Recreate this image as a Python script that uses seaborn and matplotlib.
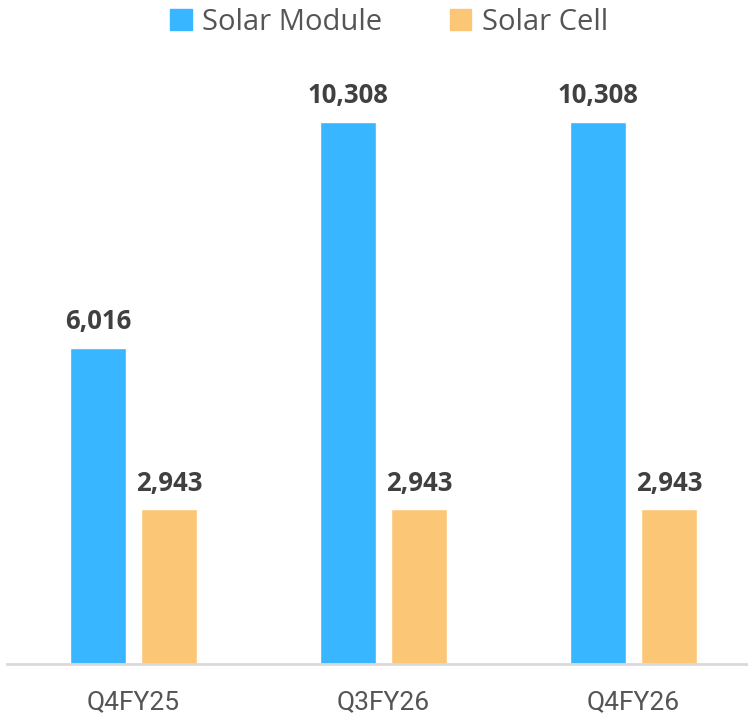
import pandas as pd
import numpy as np
import matplotlib
matplotlib.use("Agg")
import matplotlib.pyplot as plt
import seaborn as sns

# data
quarters = ["Q4FY25", "Q3FY26", "Q4FY26"]
solar_module = [6016, 10308, 10308]
solar_cell = [2943, 2943, 2943]
series = ["Solar Module", "Solar Cell"]
colors = ["#38b6ff", "#fcc677"]

df = pd.DataFrame({
    "quarter": quarters * 2,
    "series": [series[0]] * 3 + [series[1]] * 3,
    "value": solar_module + solar_cell,
})

sns.set_style("white")

W, H = 748, 717
fig = plt.figure(figsize=(W / 100, H / 100), dpi=100)
# axes placed in pixel terms: baseline at y=664, plot from x=7 to 748
ax = fig.add_axes([7 / W, (H - 664) / H, 741 / W, (664 - 50) / H])

sns.barplot(data=df, x="quarter", y="value", hue="series", palette=colors,
            width=0.568, gap=0.211, ax=ax, legend=False, saturation=1)

ax.set_xlim(-0.506, 2.458)
ax.set_ylim(0, 614 / 542 * 10308)

for cont in ax.containers:
    ax.bar_label(cont, labels=[f"{v:,.0f}" for v in cont.datavalues],
                 padding=9, fontsize=18.5, fontweight="bold", color="#404040",
                 family="Open Sans")

sns.despine(ax=ax, left=True)
ax.spines["bottom"].set_color("#d9d9d9")
ax.spines["bottom"].set_linewidth(2)
ax.set_yticks([])
ax.set_xlabel("")
ax.set_ylabel("")
ax.tick_params(axis="x", length=0, pad=19, labelsize=19, labelcolor="#555555")
for t in ax.get_xticklabels():
    t.set_family("Roboto")

handles = [plt.Rectangle((0, 0), 1, 1, color=c) for c in colors]
fig.legend(handles, series, loc="center", bbox_to_anchor=(389 / W, 1 - 22 / H),
           ncol=2, frameon=False, handlelength=0.75, handleheight=0.75,
           handletextpad=0.35, columnspacing=2.3,
           prop={"family": "Open Sans", "size": 21}, labelcolor="#555555")

fig.savefig("out.png", dpi=100)
